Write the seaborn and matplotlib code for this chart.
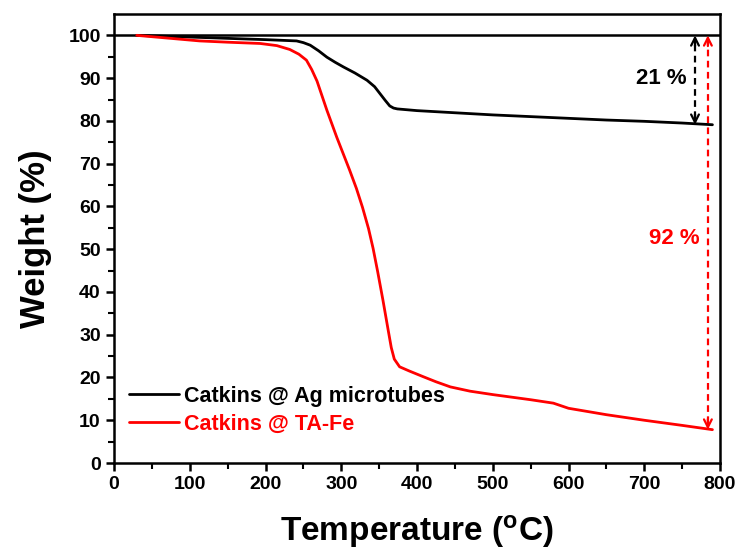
import numpy as np
import pandas as pd
import seaborn as sns
import matplotlib.pyplot as plt

# TGA curves
temp_ag = [30, 100, 166, 200, 241, 250, 259, 270, 281, 292, 303, 318, 334, 344, 351,
           358, 364, 369, 374, 400, 450, 500, 550, 600, 650, 700, 750, 790]
weight_ag = [100, 99.6, 99.2, 99.0, 98.7, 98.3, 97.7, 96.4, 94.9, 93.7, 92.6, 91.2, 89.5,
             88.0, 86.4, 84.8, 83.5, 83.0, 82.8, 82.4, 81.9, 81.4, 81.0, 80.6, 80.2, 79.9,
             79.5, 79.1]

temp_fe = [30, 113, 150, 193, 215, 232, 244, 254, 261, 268, 281, 294, 311, 320, 328,
           336, 342, 348, 355, 362, 366, 370, 377, 390, 408, 425, 444, 470, 500, 550,
           580, 600, 650, 700, 750, 790]
weight_fe = [100, 98.7, 98.4, 98.1, 97.6, 96.7, 95.6, 94.2, 92.0, 89.3, 82.5, 76.2, 68.5,
             64.2, 59.8, 54.8, 50.2, 44.8, 38.1, 31.0, 27.0, 24.3, 22.5, 21.5, 20.2, 19.0,
             17.8, 16.8, 16.0, 14.8, 14.0, 12.8, 11.3, 10.0, 8.8, 7.8]

labels = ['Catkins @ Ag microtubes', 'Catkins @ TA-Fe']
colors = ['black', '#ff0000']

df = pd.concat([
    pd.DataFrame({'T': temp_ag, 'W': weight_ag, 'sample': labels[0]}),
    pd.DataFrame({'T': temp_fe, 'W': weight_fe, 'sample': labels[1]}),
])

sns.set_style('ticks', rc={'text.color': 'black', 'axes.labelcolor': 'black',
                           'xtick.color': 'black', 'ytick.color': 'black',
                           'axes.edgecolor': 'black'})
plt.rcParams['font.family'] = ['Liberation Sans', 'DejaVu Sans']

fig = plt.figure(figsize=(7.39, 5.59), dpi=100)
ax = fig.add_axes([0.1543, 0.1717, 0.82, 0.8033])

sns.lineplot(data=df, x='T', y='W', hue='sample', palette=colors, lw=2,
             sort=False, ax=ax)
ax.axhline(100, color='black', lw=1.8, zorder=1)

# loss arrows
for x, y_low, c in [(767, 79.1, 'black'), (784, 7.8, '#ff0000')]:
    ax.vlines(x, y_low + 1.5, 98.5, colors=c, linestyles=(0, (3, 2)), lw=1.6)
    ax.annotate('', xy=(x, 100), xytext=(x, 97.5),
                arrowprops=dict(arrowstyle='->', color=c, lw=1.6, shrinkA=0, shrinkB=0,
                                mutation_scale=14))
    ax.annotate('', xy=(x, y_low), xytext=(x, y_low + 2.5),
                arrowprops=dict(arrowstyle='->', color=c, lw=1.6, shrinkA=0, shrinkB=0,
                                mutation_scale=14))
ax.text(723, 90, '21 %', color='black', fontsize=16, fontweight='bold',
        ha='center', va='center')
ax.text(740, 52.6, '92 %', color='#ff0000', fontsize=16, fontweight='bold',
        ha='center', va='center')

ax.set_xlim(0, 800)
ax.set_ylim(0, 105)
ax.set_xticks(np.arange(0, 801, 100))
ax.set_xticks(np.arange(50, 800, 100), minor=True)
ax.set_yticks(np.arange(0, 101, 10))
ax.set_yticks(np.arange(5, 100, 10), minor=True)
ax.tick_params(which='major', direction='out', length=6, width=1.8, labelsize=14)
ax.tick_params(which='minor', direction='out', length=4, width=1.5)
for lab in ax.get_xticklabels() + ax.get_yticklabels():
    lab.set_fontweight('bold')
for s in ax.spines.values():
    s.set_linewidth(1.8)
    s.set_color('black')

ax.set_xlabel('Temperature ($\\mathregular{^{o}}$C)', fontsize=24, fontweight='bold',
              labelpad=14)
ax.set_ylabel('Weight (%)', fontsize=25, fontweight='bold', labelpad=12)

leg = ax.legend(loc='lower left', bbox_to_anchor=(0.0, 0.03), frameon=False,
                fontsize=15.5, handlelength=2.3, handletextpad=0.25, labelspacing=0.3,
                borderaxespad=0.3)
for t, c in zip(leg.get_texts(), colors):
    t.set_color(c)
    t.set_fontweight('bold')
for h in leg.get_lines():
    h.set_linewidth(2)

fig.savefig('out.png', dpi=100)
